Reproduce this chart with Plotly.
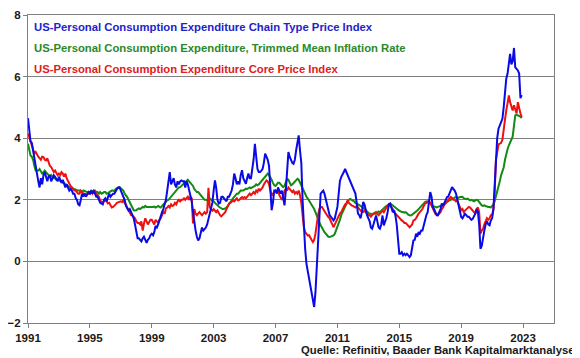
import pandas as pd
import plotly.graph_objects as go

start_month = "1991-01-01"

headline_pce = [
    4.65, 4.3, 3.9, 3.85, 3.6, 3.3, 3.0, 2.8, 2.6, 2.4, 2.7, 2.5,
    2.8, 2.9, 2.75, 2.6, 2.75, 2.8, 2.6, 2.7, 2.8, 2.75, 2.65, 2.6,
    2.75, 2.6, 2.55, 2.65, 2.5, 2.4, 2.5, 2.4, 2.3, 2.35, 2.3, 2.2,
    2.2, 2.05, 2.0, 1.85, 1.82, 2.0, 2.2, 2.1, 2.2, 2.1, 2.2, 2.25,
    2.2, 2.3, 2.2, 2.3, 2.2, 2.1, 2.1, 2.0, 1.9, 1.88, 1.85, 2.0,
    2.05, 1.95, 2.1, 2.2, 2.1, 2.15, 2.2, 2.2, 2.3, 2.35, 2.4, 2.4,
    2.3, 2.2, 2.1, 2.0, 1.8, 1.7, 1.65, 1.7, 1.6, 1.5, 1.4, 1.2,
    0.95, 0.75, 0.75, 0.7, 0.65, 0.75, 0.8, 0.7, 0.6, 0.7, 0.75, 0.85,
    0.9, 0.85, 0.95, 1.15, 1.1, 1.2, 1.35, 1.5, 1.6, 1.7, 1.85, 2.0,
    2.3, 2.6, 2.9, 2.5, 2.6, 2.7, 2.5, 2.4, 2.6, 2.5, 2.6, 2.63,
    2.6, 2.6, 2.4, 2.6, 2.5, 2.3, 2.1, 1.95, 1.6, 1.23, 1.0, 0.8,
    0.68, 0.75, 0.9, 1.1, 1.0, 1.05, 1.1, 1.2, 1.4, 1.6, 1.76, 1.9,
    2.3, 2.63, 2.4, 2.0, 1.88, 1.9, 2.09, 2.1, 2.05, 2.0, 1.95, 2.1,
    2.1, 2.2, 2.3, 2.5, 2.85, 2.7, 2.5, 2.6, 2.5, 2.8, 2.96, 2.7,
    2.6, 2.52, 2.7, 2.85, 2.7, 2.7, 3.0, 3.3, 3.82, 3.5, 3.0, 2.9,
    2.9, 2.95, 3.0, 3.2, 3.5, 3.4, 3.3, 3.1, 2.5, 1.66, 1.9, 2.3,
    2.3, 2.2, 2.4, 2.3, 2.2, 2.3, 2.0, 1.82, 2.3, 3.0, 3.55, 3.4,
    3.3, 3.2, 3.17, 3.3, 3.6, 3.85, 4.09, 3.6, 3.2, 2.0, 0.9, 0.4,
    -0.08, -0.3, -0.51, -0.8, -1.0, -1.16, -1.48, -1.0, -0.29, 0.6, 1.44, 2.2,
    2.25, 2.3, 2.2, 2.0, 1.9, 1.6, 1.5, 1.45, 1.4, 1.33, 1.4, 1.6,
    1.77, 2.2, 2.6, 2.74, 2.8, 2.9, 3.0, 2.9, 2.8, 2.7, 2.6, 2.5,
    2.4, 2.3, 2.2, 1.9, 1.55, 1.5, 1.4, 1.6, 1.93, 1.85, 1.6, 1.5,
    1.4, 1.3, 1.1, 1.06, 1.2, 1.4, 1.49, 1.3, 1.1, 1.06, 1.2, 1.49,
    1.17, 1.3, 1.4, 1.6, 1.85, 1.88, 1.7, 1.6, 1.66, 1.5, 1.2, 0.8,
    0.25, 0.25, 0.3, 0.2, 0.25, 0.2, 0.25, 0.2, 0.14, 0.2, 0.4, 0.68,
    0.7, 0.9, 0.8, 0.95, 0.9, 1.0, 1.0, 1.2, 1.33, 1.5, 1.6, 1.98,
    2.25, 2.1, 1.76, 1.7, 1.6, 1.5, 1.5, 1.6, 1.7, 1.88, 1.8, 1.9,
    2.0, 2.09, 2.1, 2.2, 2.3, 2.41, 2.35, 2.3, 2.2, 2.0, 1.8, 1.7,
    1.44, 1.4, 1.5, 1.55, 1.5, 1.45, 1.45, 1.4, 1.35, 1.38, 1.45, 1.55,
    1.7, 1.6, 1.2, 0.41, 0.5, 0.85, 1.0, 1.2, 1.3, 1.2, 1.17, 1.33,
    1.4, 1.7, 2.6, 3.6, 4.0, 4.31, 4.4, 4.5, 4.63, 5.0, 5.6, 5.93,
    6.1, 6.36, 6.74, 6.4, 6.5, 6.93, 6.3, 6.25, 6.2, 6.1, 5.3, 5.4,
]

trimmed_mean = [
    3.82, 3.6, 3.44, 3.4, 3.3, 3.1, 2.95, 2.95, 2.95, 3.0, 2.9, 2.85,
    2.9, 2.95, 2.9, 2.85, 2.8, 2.75, 2.8, 2.75, 2.7, 2.7, 2.65, 2.65,
    2.63, 2.6, 2.6, 2.55, 2.55, 2.5, 2.5, 2.45, 2.4, 2.4, 2.38, 2.36,
    2.35, 2.33, 2.3, 2.3, 2.3, 2.28, 2.25, 2.3, 2.28, 2.25, 2.25, 2.25,
    2.25, 2.3, 2.28, 2.25, 2.3, 2.25, 2.25, 2.2, 2.25, 2.2, 2.22, 2.25,
    2.25, 2.2, 2.22, 2.25, 2.25, 2.3, 2.3, 2.28, 2.35, 2.38, 2.4, 2.41,
    2.38, 2.35, 2.3, 2.2, 2.15, 2.09, 2.0, 1.9, 1.8, 1.7, 1.66, 1.65,
    1.66, 1.7, 1.72, 1.7, 1.75, 1.77, 1.75, 1.8, 1.77, 1.77, 1.75, 1.77,
    1.75, 1.77, 1.78, 1.75, 1.77, 1.8, 1.77, 1.75, 1.8, 1.85, 1.9, 1.95,
    1.98, 2.0, 2.05, 2.1, 2.15, 2.2, 2.25, 2.3, 2.35, 2.4, 2.41, 2.45,
    2.5, 2.55, 2.6, 2.63, 2.65, 2.6, 2.55, 2.5, 2.45, 2.35, 2.3, 2.25,
    2.25, 2.2, 2.15, 2.1, 2.05, 2.0, 2.0, 1.98, 2.02, 2.04, 2.0, 1.98,
    1.95, 1.9, 1.85, 1.82, 1.78, 1.75, 1.72, 1.7, 1.7, 1.72, 1.75, 1.8,
    1.85, 1.9, 1.98, 2.05, 2.1, 2.15, 2.2, 2.2, 2.25, 2.3, 2.3, 2.3,
    2.33, 2.36, 2.35, 2.38, 2.4, 2.38, 2.4, 2.41, 2.45, 2.5, 2.47, 2.5,
    2.55, 2.6, 2.65, 2.7, 2.75, 2.82, 2.85, 2.8, 2.74, 2.65, 2.55, 2.47,
    2.45, 2.5, 2.55, 2.55, 2.5, 2.45, 2.41, 2.45, 2.55, 2.68, 2.65, 2.55,
    2.47, 2.5, 2.55, 2.6, 2.65, 2.68, 2.65, 2.55, 2.45, 2.35, 2.3, 2.2,
    2.1, 2.04, 1.98, 1.9, 1.85, 1.77, 1.7, 1.6, 1.49, 1.35, 1.25, 1.17,
    1.1, 1.0, 0.95, 0.9, 0.85, 0.8, 0.79, 0.8, 0.82, 0.84, 0.9, 1.0,
    1.1, 1.22, 1.35, 1.5, 1.6, 1.66, 1.75, 1.85, 1.95, 2.0, 2.03, 2.0,
    1.98, 1.95, 1.9, 1.88, 1.85, 1.82, 1.8, 1.77, 1.75, 1.7, 1.65, 1.6,
    1.58, 1.55, 1.55, 1.52, 1.55, 1.58, 1.55, 1.6, 1.62, 1.6, 1.65, 1.7,
    1.75, 1.77, 1.8, 1.82, 1.85, 1.88, 1.85, 1.8, 1.78, 1.75, 1.7, 1.68,
    1.65, 1.62, 1.6, 1.6, 1.58, 1.6, 1.55, 1.52, 1.5, 1.49, 1.52, 1.55,
    1.58, 1.6, 1.65, 1.7, 1.75, 1.8, 1.85, 1.88, 1.93, 1.95, 1.93, 1.9,
    1.88, 1.85, 1.8, 1.78, 1.77, 1.75, 1.77, 1.78, 1.8, 1.82, 1.85, 1.88,
    1.9, 1.93, 1.95, 1.98, 2.0, 2.04, 2.05, 2.07, 2.09, 2.08, 2.06, 2.09,
    2.09, 2.1, 2.05, 2.04, 2.02, 2.04, 2.0, 1.98, 2.0, 1.98, 1.95, 1.98,
    2.0, 1.98, 1.93, 1.85, 1.82, 1.8, 1.82, 1.8, 1.78, 1.77, 1.77, 1.75,
    1.8, 1.85, 1.95, 2.1, 2.25, 2.4, 2.6, 2.8, 2.95, 3.05, 3.3, 3.5,
    3.65, 3.77, 3.85, 3.95, 4.05, 4.4, 4.74, 4.76, 4.74, 4.74, 4.7, 4.65,
]

core_pce = [
    4.15, 4.0, 3.9, 3.75, 3.6, 3.5, 3.55, 3.45, 3.4, 3.35, 3.3, 3.4,
    3.39, 3.3, 3.28, 3.35, 3.2, 3.1, 3.06, 2.95, 2.9, 2.95, 2.85, 2.8,
    2.85, 2.8, 2.9, 2.85, 2.75, 2.85, 2.7, 2.6, 2.5, 2.45, 2.41, 2.35,
    2.3, 2.3, 2.25, 2.2, 2.2, 2.3, 2.25, 2.2, 2.2, 2.15, 2.2, 2.2,
    2.2, 2.25, 2.2, 2.3, 2.25, 2.2, 2.15, 2.1, 1.98, 1.95, 1.9, 1.95,
    2.0, 1.95, 1.88, 1.9, 1.8, 1.75, 1.77, 1.8, 1.85, 1.9, 1.92, 1.95,
    1.95, 1.93, 1.98, 1.9, 1.85, 1.75, 1.65, 1.55, 1.5, 1.49, 1.45, 1.4,
    1.3, 1.25, 1.25, 1.2, 1.3, 1.0, 1.23, 1.4, 1.3, 1.2, 1.28, 1.35,
    1.35, 1.28, 1.2, 1.35, 1.3, 1.25, 1.35, 1.4, 1.5, 1.6, 1.55, 1.72,
    1.75, 1.8, 1.75, 1.85, 1.8, 1.82, 1.9, 1.85, 1.95, 2.0, 1.95, 2.0,
    2.0, 2.05, 2.0, 2.05, 2.1, 2.0, 2.09, 2.05, 1.23, 1.7, 1.55, 1.5,
    1.55, 1.6, 1.55, 1.5, 1.55, 1.6, 1.55, 1.6, 2.39, 1.76, 1.7, 1.65,
    1.7, 1.66, 1.6, 1.65, 1.55, 1.5, 1.46, 1.5, 1.55, 1.6, 1.7, 1.8,
    1.88, 1.9, 1.95, 1.98, 1.95, 2.0, 2.05, 1.98, 2.0, 2.05, 2.09, 2.05,
    2.09, 2.05, 2.1, 2.15, 2.2, 2.15, 2.2, 2.25, 2.2, 2.3, 2.25, 2.36,
    2.3, 2.35, 2.4, 2.5, 2.55, 2.63, 2.6, 2.5, 2.3, 2.14, 2.2, 2.25,
    2.3, 2.25, 2.3, 2.15, 2.05, 2.0, 2.1, 2.3, 2.36, 2.3, 2.4, 2.35,
    2.3, 2.25, 2.3, 2.2, 2.25, 2.2, 2.3, 2.15, 1.9, 1.5, 1.1, 0.95,
    0.9, 0.84, 0.85, 0.75, 0.7, 0.63, 0.7, 0.9, 1.3, 1.5, 1.7, 1.77,
    1.77, 1.7, 1.6, 1.55, 1.5, 1.44, 1.4, 1.3, 1.2, 1.11, 1.2, 1.3,
    1.35, 1.45, 1.55, 1.6, 1.7, 1.8, 1.85, 1.88, 1.98, 1.9, 1.85, 1.82,
    1.8, 1.77, 1.75, 1.8, 1.75, 1.7, 1.65, 1.6, 1.6, 1.65, 1.6, 1.55,
    1.5, 1.5, 1.45, 1.5, 1.55, 1.55, 1.6, 1.55, 1.5, 1.55, 1.6, 1.65,
    1.6, 1.7, 1.75, 1.8, 1.85, 1.8, 1.75, 1.7, 1.6, 1.55, 1.5, 1.45,
    1.4, 1.35, 1.33, 1.3, 1.25, 1.25, 1.2, 1.15, 1.11, 1.15, 1.2, 1.33,
    1.35, 1.4, 1.5, 1.55, 1.6, 1.65, 1.7, 1.8, 1.88, 1.9, 1.95, 1.98,
    1.9, 1.8, 1.7, 1.6, 1.55, 1.55, 1.5, 1.55, 1.6, 1.7, 1.75, 1.85,
    1.88, 1.95, 2.0, 2.05, 2.09, 2.05, 2.0, 2.0, 1.95, 1.98, 1.85, 1.8,
    1.66, 1.7, 1.6, 1.65, 1.7, 1.75, 1.77, 1.75, 1.7, 1.65, 1.6, 1.55,
    1.7, 1.75, 1.6, 0.9, 1.0, 1.05, 1.2, 1.3, 1.4, 1.35, 1.4, 1.5,
    1.5, 1.7, 2.2, 3.3, 3.6, 3.8, 3.82, 3.85, 3.95, 4.2, 4.6, 4.9,
    5.2, 5.39, 5.17, 5.0, 4.9, 5.07, 4.9, 4.8, 5.17, 4.95, 4.8, 4.69,
]

series_names = [
    "US-Personal Consumption Expenditure Chain Type Price Index",
    "US-Personal Consumption Expenditure, Trimmed Mean Inflation Rate",
    "US-Personal Consumption Expenditure Core Price Index",
]
series_colors = ["#0a0ae6", "#138a13", "#ee1111"]
label_colors = ["#2323c8", "#2a8a2a", "#e02020"]

tick_years = [1991, 1995, 1999, 2003, 2007, 2011, 2015, 2019, 2023]
y_ticks = [-2, 0, 2, 4, 6, 8]
source_text = "Quelle: Refinitiv, Baader Bank Kapitalmarktanalyse"

dates = pd.date_range(start_month, periods=len(headline_pce), freq="MS")

FONT = "Liberation Sans, Arial, sans-serif"

# The page body has an 8px default margin, so the figure is sized and
# offset to land the plot area where the reference has it.
fig = go.Figure()
for vals, idx in [(trimmed_mean, 1), (core_pce, 2), (headline_pce, 0)]:
    fig.add_trace(go.Scatter(
        x=dates, y=vals, mode="lines", name=series_names[idx],
        line=dict(color=series_colors[idx], width=2),
        showlegend=False,
    ))

label_y = [0.962, 0.892, 0.824]
for name, col, yy in zip(series_names, label_colors, label_y):
    fig.add_annotation(
        x=0.008, y=yy, xref="paper", yref="paper", xanchor="left", yanchor="middle",
        text=f"<b>{name}</b>", showarrow=False,
        font=dict(family=FONT, size=11.3, color=col),
    )

fig.add_annotation(
    x=1.044, y=-0.088, xref="paper", yref="paper", xanchor="right", yanchor="middle",
    text=f"<b>{source_text}</b>", showarrow=False,
    font=dict(family=FONT, size=11.3, color="#1a1a1a"),
)

fig.update_layout(
    width=572, height=350,
    margin=dict(l=20, r=26, t=7, b=35, autoexpand=False),
    paper_bgcolor="white", plot_bgcolor="white",
    font=dict(family=FONT, size=11, color="#1a1a1a"),
)
fig.update_xaxes(
    type="date",
    range=["1991-01-01", "2025-01-01"],
    tickvals=[f"{y}-01-01" for y in tick_years],
    ticktext=[str(y) for y in tick_years],
    tickfont=dict(family=FONT, size=11.5, color="#1a1a1a", weight="bold"),
    showgrid=False, showline=True, mirror=True, linecolor="#808080", linewidth=1,
    ticks="outside", ticklen=4, tickcolor="#808080",
)
fig.update_yaxes(
    range=[-2, 8], tickvals=y_ticks,
    tickfont=dict(family=FONT, size=11.5, color="#1a1a1a", weight="bold"),
    showgrid=True, gridcolor="#808080", gridwidth=1, zeroline=False,
    showline=True, mirror=True, linecolor="#808080", linewidth=1,
    ticks="outside", ticklen=4, tickcolor="#808080",
)

fig.write_html("out.html")
